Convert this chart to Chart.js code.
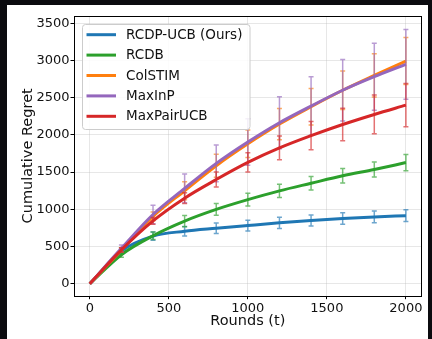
<!DOCTYPE html>
<html>
<head>
<meta charset="utf-8">
<script src="https://cdn.jsdelivr.net/npm/chart.js@4.4.0/dist/chart.umd.min.js"></script>
<style>
    html, body { margin: 0; padding: 0; background: #0b0b0f; }
    #wrap { position: absolute; left: 7px; top: 5px; width: 421px; height: 334px; background: #fff; }
</style>
</head>
<body>
<div id="wrap"><canvas id="regretChart" width="421" height="334"></canvas></div>
<script>
// Data
const rounds = [0, 200, 400, 600, 800, 1000, 1200, 1400, 1600, 1800, 2000];
const seriesNames = ['RCDP-UCB (Ours)', 'RCDB', 'ColSTIM', 'MaxInP', 'MaxPairUCB'];
const rcdpUcb = [0, 440, 640, 705, 745, 782, 818, 850, 876, 898, 915];
const rcdb = [0, 390, 645, 842, 999, 1130, 1248, 1350, 1450, 1535, 1628];
const colstim = [0, 455, 905, 1250, 1586, 1880, 2146, 2379, 2600, 2800, 2993];
const maxInP = [0, 475, 930, 1281, 1617, 1905, 2164, 2388, 2600, 2782, 2948];
const maxPairUcb = [0, 455, 845, 1150, 1400, 1630, 1825, 1990, 2140, 2275, 2400];
const rcdpUcbErr = [0, 40, 55, 65, 70, 72, 75, 75, 78, 80, 80];
const rcdbErr = [0, 35, 50, 75, 78, 85, 88, 92, 98, 102, 110];
const colstimErr = [0, 30, 60, 120, 155, 185, 210, 245, 260, 290, 315];
const maxInPErr = [0, 45, 125, 193, 246, 313, 350, 394, 412, 450, 470];
const maxPairUcbErr = [0, 30, 45, 72, 100, 130, 160, 190, 217, 260, 290];
const xTicks = [0, 500, 1000, 1500, 2000];
const yTicks = [0, 500, 1000, 1500, 2000, 2500, 3000, 3500];

const colors = ['#1f77b4', '#2ca02c', '#ff7f0e', '#9467bd', '#d62728'];
const values = [rcdpUcb, rcdb, colstim, maxInP, maxPairUcb];
const errors = [rcdpUcbErr, rcdbErr, colstimErr, maxInPErr, maxPairUcbErr];
const FONT = "'DejaVu Sans', sans-serif";

function hexA(hex, a) {
    const n = parseInt(hex.slice(1), 16);
    return `rgba(${n >> 16},${(n >> 8) & 255},${n & 255},${a})`;
}

const datasets = seriesNames.map((name, i) => ({
    label: name,
    data: rounds.map((r, j) => ({ x: r, y: values[i][j] })),
    errors: errors[i],
    borderColor: colors[i],
    backgroundColor: colors[i],
    borderWidth: 3,
    pointRadius: 0,
    cubicInterpolationMode: 'monotone',
    fill: false,
    order: seriesNames.length - i
}));

// error bars, drawn just before each line
const errorBars = {
    id: 'errorBars',
    beforeDatasetDraw(chart, args) {
        const ds = chart.data.datasets[args.index];
        const xs = chart.scales.x, ys = chart.scales.y;
        const ctx = chart.ctx;
        ctx.save();
        ctx.strokeStyle = hexA(ds.borderColor, 0.65);
        ctx.lineWidth = 1.5;
        ds.data.forEach((p, j) => {
            const e = ds.errors[j];
            if (!e) return;
            const px = xs.getPixelForValue(p.x);
            const top = ys.getPixelForValue(p.y + e);
            const bot = ys.getPixelForValue(p.y - e);
            ctx.beginPath();
            ctx.moveTo(px, top); ctx.lineTo(px, bot);
            ctx.moveTo(px - 2.5, top); ctx.lineTo(px + 2.5, top);
            ctx.moveTo(px - 2.5, bot); ctx.lineTo(px + 2.5, bot);
            ctx.stroke();
        });
        ctx.restore();
    }
};

// frame and legend box
const frameLegend = {
    id: 'frameLegend',
    afterDraw(chart) {
        const { ctx, chartArea: a } = chart;
        ctx.save();
        ctx.strokeStyle = '#000';
        ctx.lineWidth = 1;
        ctx.strokeRect(Math.round(a.left) + 0.5, Math.round(a.top) + 0.5,
            Math.round(a.right - a.left) - 1, Math.round(a.bottom - a.top));

        const bx = a.left + 8, by = a.top + 8, bw = 167.5, bh = 105;
        ctx.beginPath();
        ctx.roundRect(bx + 0.5, by + 0.5, bw, bh, 3);
        ctx.fillStyle = 'rgba(255,255,255,0.85)';
        ctx.fill();
        ctx.strokeStyle = '#cccccc';
        ctx.stroke();

        ctx.font = '13.5px ' + FONT;
        ctx.textBaseline = 'middle';
        ctx.fillStyle = '#111';
        chart.data.datasets.forEach((ds, i) => {
            const y = by + 10.7 + i * 20.4;
            ctx.beginPath();
            ctx.strokeStyle = ds.borderColor;
            ctx.lineWidth = 3;
            ctx.moveTo(bx + 4.5, y);
            ctx.lineTo(bx + 34, y);
            ctx.stroke();
            ctx.fillText(ds.label, bx + 44, y + 0.5);
        });
        ctx.restore();
    }
};

new Chart(document.getElementById('regretChart'), {
    type: 'line',
    data: { datasets },
    options: {
        responsive: false,
        animation: false,
        layout: { padding: { top: 11, right: 6.3, left: 0, bottom: 0 } },
        plugins: { legend: { display: false }, tooltip: { enabled: false } },
        scales: {
            x: {
                type: 'linear',
                min: -100,
                max: 2100,
                afterFit: s => { s.height = 43.3; },
                afterBuildTicks: s => { s.ticks = xTicks.map(v => ({ value: v })); },
                grid: { color: 'rgba(176,176,176,0.3)', tickColor: '#000', tickLength: 3.5, lineWidth: 1 },
                border: { display: false },
                ticks: { color: '#111', font: { family: FONT, size: 13 }, padding: 1.5, maxRotation: 0, callback: v => String(v) },
                title: { display: true, text: 'Rounds (t)', color: '#111', font: { family: FONT, size: 14.5 }, padding: { top: 0, bottom: 8.6 } }
            },
            y: {
                min: -161,
                max: 3598,
                afterFit: s => { s.width = 67; },
                afterBuildTicks: s => { s.ticks = yTicks.map(v => ({ value: v })); },
                grid: { color: 'rgba(176,176,176,0.3)', tickColor: '#000', tickLength: 3.5, lineWidth: 1 },
                border: { display: false },
                ticks: { color: '#111', font: { family: FONT, size: 13 }, padding: 1, callback: v => String(v) },
                title: { display: true, text: 'Cumulative Regret', color: '#111', font: { family: FONT, size: 14.5 }, padding: { top: 12.5, bottom: 0 } }
            }
        }
    },
    plugins: [errorBars, frameLegend]
});
</script>
</body>
</html>
